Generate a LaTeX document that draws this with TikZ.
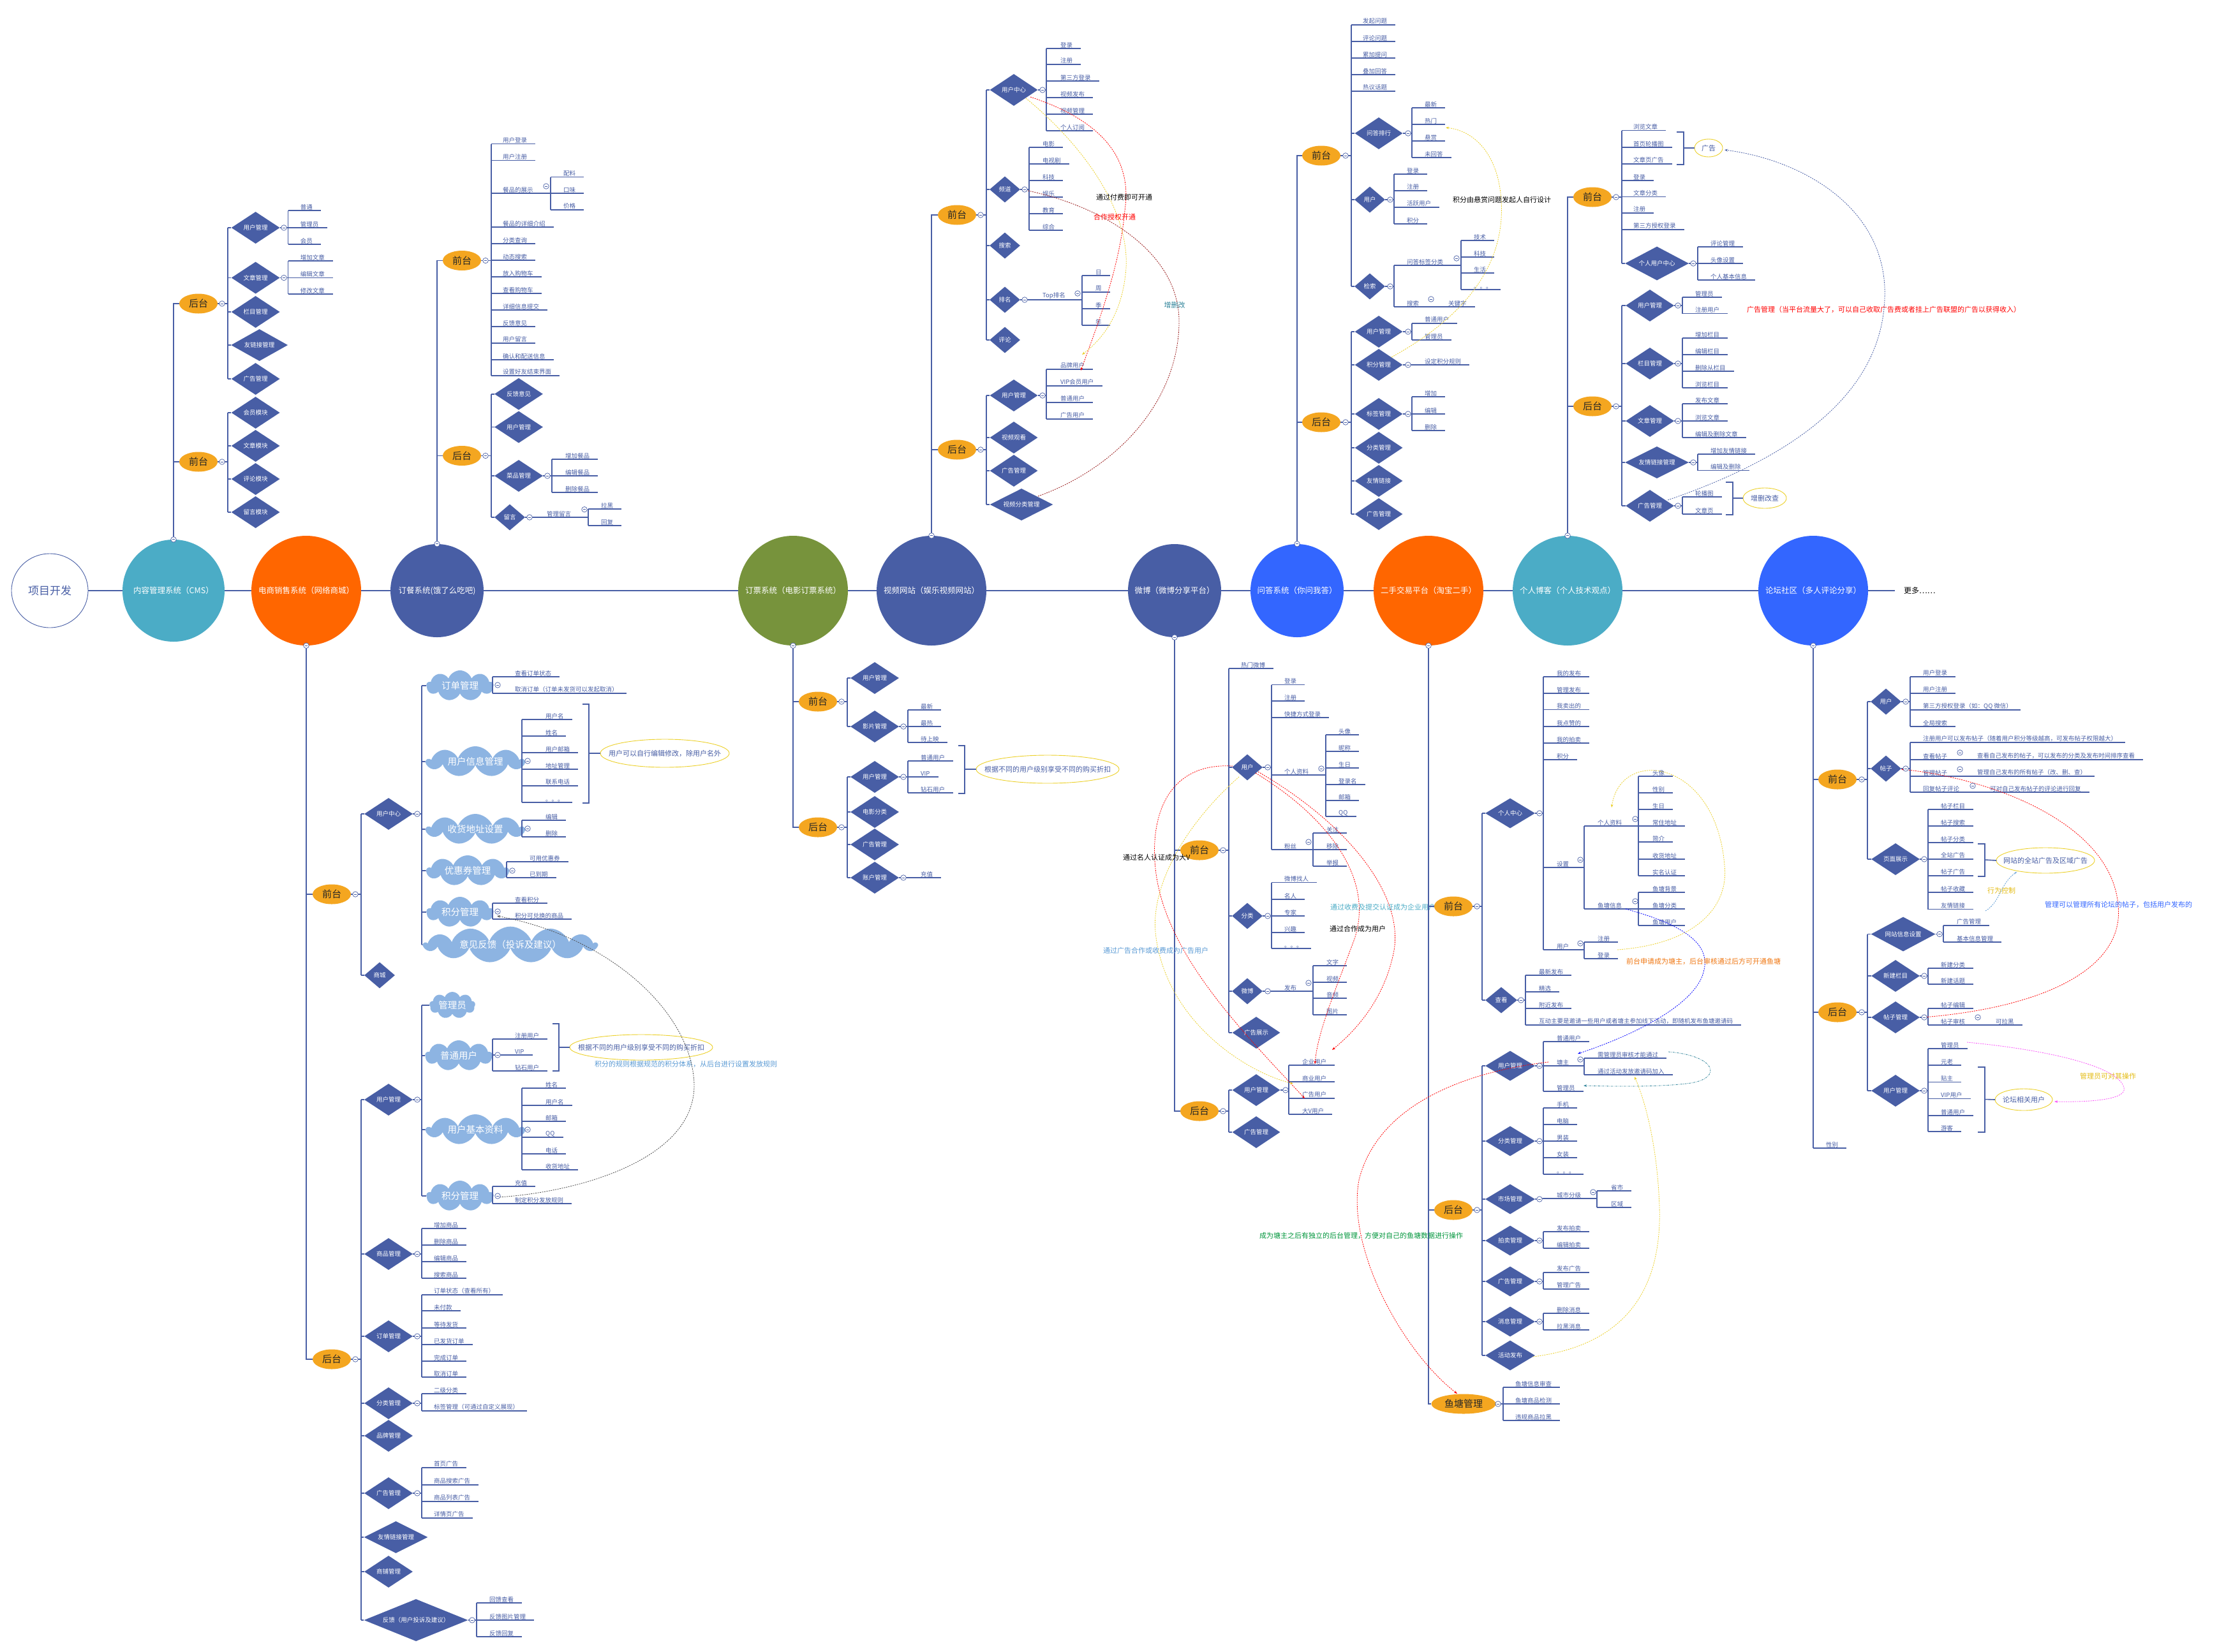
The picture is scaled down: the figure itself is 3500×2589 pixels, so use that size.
\documentclass[tikz,border=0pt]{standalone}
\usepackage{fontspec}
\setmainfont{Noto Sans CJK SC}
\usetikzlibrary{shapes.geometric,shapes.symbols,arrows.meta}
\definecolor{lc}{RGB}{72,94,165}
\definecolor{oc}{RGB}{244,166,32}
\definecolor{orgc}{RGB}{255,102,0}
\definecolor{tealc}{RGB}{75,172,198}
\definecolor{grnc}{RGB}{119,147,60}
\definecolor{bluc}{RGB}{51,102,255}
\definecolor{clc}{RGB}{141,180,226}
\definecolor{yc}{RGB}{236,208,40}
\definecolor{notec}{RGB}{91,155,213}
\definecolor{darkred}{RGB}{150,20,20}
\definecolor{tealt}{RGB}{49,133,155}
\definecolor{ytext}{RGB}{228,188,20}
\definecolor{magc}{RGB}{250,80,250}
\definecolor{grtext}{RGB}{0,150,60}
\definecolor{ortext}{RGB}{240,120,20}
\newcommand\fsz[1]{\fontsize{#1}{#1}\selectfont}
\newcounter{mkn}
\newcommand\MK[1]{\stepcounter{mkn}\node[mkr] (mk\arabic{mkn}) at (#1) {};}
\newcommand\LEAF[6][18]{%
  \draw[tline] (#3,#4) -- (#3,#5);
  \foreach \yy/\lbl [count=\i] in {#6}{%
    \node[leaftext] (#2-\i) at ({#3+#1},\yy) {\lbl};
    \draw[tline] (#3,\yy) -- ([xshift=12pt]#2-\i.south east);
  }}
\newcommand\DIA[6][]{\node[diam,#1] (#2) at (#3,#4) {#5};\draw[tline] (#6,#4) -- (#2.west);}
\newcommand\CLD[6][]{\node[cloudn,#1] (#2) at (#3,#4) {#5};\draw[tline] (#6,#4) -- (#2.west);}
\newcommand\TXT[3]{\node[leaftext] (#1) at (#2) {#3};}
\newcommand\NOTEE[5]{\node[annot,text=lc] (#1) at (#2) {#5};\draw[yc,line width=0.9pt] (#1.center) ellipse [x radius=#3pt, y radius=#4pt];\coordinate (#1w) at ([xshift=-#3pt]#1.center);}
\tikzset{
 tline/.style={draw=lc, line width=1.6pt},
 brkl/.style={draw=lc, line width=1.6pt},
 stemline/.style={draw=lc, line width=1.1pt},
 leaftext/.style={text=lc, font=\fsz{9.5}, inner sep=1pt, anchor=south west},
 diam/.style={diamond, fill=lc, text=white, font=\fsz{9.5}, inner sep=0pt, minimum width=76pt, minimum height=50pt, aspect=1.6},
 sdiam/.style={minimum width=48pt, minimum height=41pt, aspect=1.2},
 fbe/.style={ellipse, fill=oc, minimum width=60pt, minimum height=31pt, inner sep=0pt, font=\fsz{15}, text=black!85},
 mcirc/.style={circle, text=white, font=\fsz{12.5}, inner sep=0pt},
 cloudn/.style={cloud, cloud puffs=9, cloud puff arc=140, cloud ignores aspect, fill=clc, text=white, font=\fsz{14.5}, inner sep=0pt, minimum height=48pt},
 annot/.style={font=\fsz{11}, inner sep=1pt},
 dashl/.style={line width=0.8pt, dash pattern=on 2pt off 1.5pt},
 mkr/.style={circle, draw=lc, fill=white, line width=0.7pt, minimum size=8.5pt, inner sep=0pt, path picture={\draw[lc, line width=0.7pt] ([xshift=1.8pt]path picture bounding box.west) -- ([xshift=-1.8pt]path picture bounding box.east);}},
}
\begin{document}
\begin{tikzpicture}[x=1pt,y=-1pt]
\fill[white] (0,0) rectangle (3500,2589);
\useasboundingbox (0,0) rectangle (3500,2589);
% ================= main row
\node[ellipse, draw=lc, line width=0.9pt, fill=white, minimum width=120pt, minimum height=116pt, text=lc, font=\fsz{17}] (root) at (78,926) {项目开发};
\node[mcirc, fill=tealc, minimum size=160pt] (cms) at (272,926) {内容管理系统（CMS）};
\node[mcirc, fill=orgc, minimum size=172pt] (ds) at (480,926) {电商销售系统（网络商城）};
\node[mcirc, fill=lc, minimum size=146pt] (dcan) at (685,926) {订餐系统(饿了么吃吧)};
\node[mcirc, fill=grnc, minimum size=172pt] (dp) at (1243,926) {订票系统（电影订票系统）};
\node[mcirc, fill=lc, minimum size=172pt] (sp) at (1460,926) {视频网站（娱乐视频网站）};
\node[mcirc, fill=lc, minimum size=146pt] (wb) at (1841,926) {微博（微博分享平台）};
\node[mcirc, fill=bluc, minimum size=146pt] (wd) at (2033,926) {问答系统（你问我答）};
\node[mcirc, fill=orgc, minimum size=172pt] (es) at (2239,926) {二手交易平台（淘宝二手）};
\node[mcirc, fill=tealc, minimum size=172pt] (bk) at (2457,926) {个人博客（个人技术观点）};
\node[mcirc, fill=bluc, minimum size=172pt] (lt) at (2842,926) {论坛社区（多人评论分享）};
\node[font=\fsz{12}, anchor=west, inner sep=0pt] (more) at (2984,926) {更多……};
\foreach \a/\b in {root/cms,cms/ds,ds/dcan,dcan/dp,dp/sp,sp/wb,wb/wd,wd/es,es/bk,bk/lt} \draw[stemline] (\a.east) -- (\b.west);
\draw[stemline] (lt.east) -- ([xshift=-14pt]more.west);
% ================= CMS
\node[fbe] (cmsB) at (311,476) {后台};
\node[fbe] (cmsF) at (311,724) {前台};
\draw[stemline] (cms.north) -- (272,476) -- (cmsB.west);
\draw[stemline] (272,724) -- (cmsF.west);
\draw[tline] (cmsB.east) -- (357,476);
\draw[tline] (357,357) -- (357,594);
\DIA{cms1}{400.6}{357}{用户管理}{357}
\DIA{cms2}{400.6}{435.5}{文章管理}{357}
\DIA{cms3}{400.6}{489}{栏目管理}{357}
\DIA[minimum width=89pt,aspect=1.9]{cms4}{406.6}{541}{友链接管理}{357}
\DIA{cms5}{400.6}{594}{广告管理}{357}
\draw[tline] (cms1.east) -- (451.6,357);
\LEAF{cmsL1}{451.6}{330}{383}{330/普通,357/管理员,383/会员}
\draw[tline] (cms2.east) -- (451.6,435.5);
\LEAF{cmsL2}{451.6}{409}{461}{409/增加文章,435.5/编辑文章,461/修改文章}
\draw[tline] (cmsF.east) -- (357,724);
\draw[tline] (357,647) -- (357,803);
\DIA{cms6}{400.6}{647}{会员模块}{357}
\DIA{cms7}{400.6}{699}{文章模块}{357}
\DIA{cms8}{400.6}{751}{评论模块}{357}
\DIA{cms9}{400.6}{803}{留言模块}{357}
\MK{cms.north}\MK{348,476}\MK{348,724}\MK{445,357}\MK{445,435.5}
% ================= 电商
\node[fbe] (dsF) at (520,1402) {前台};
\node[fbe] (dsB) at (520,2131) {后台};
\draw[stemline] (ds.south) -- (480,2131) -- (dsB.west);
\draw[stemline] (480,1402) -- (dsF.west);
\draw[tline] (dsF.east) -- (566,1402);
\draw[tline] (566,1276) -- (566,1529);
\DIA{ds1}{609}{1276}{用户中心}{566}
\DIA[sdiam]{ds2}{595}{1529}{商城}{566}
\draw[tline] (ds1.east) -- (661,1276);
\draw[tline] (661,1075) -- (661,1481);
\CLD[minimum width=105pt]{dsc1}{721}{1075}{订单管理}{661}
\CLD[minimum width=152pt]{dsc2}{745}{1194}{用户信息管理}{661}
\CLD[minimum width=152pt]{dsc3}{745}{1300}{收货地址设置}{661}
\CLD[minimum width=128pt]{dsc4}{733}{1365}{优惠券管理}{661}
\CLD[minimum width=105pt]{dsc5}{721}{1430}{积分管理}{661}
\CLD[minimum width=271pt, cloud puffs=13]{dsc6}{800}{1481}{意见反馈（投诉及建议）}{661}
\LEAF[34]{dsL1}{772}{1061}{1087}{1061/查看订单状态,1087/取消订单（订单未发货可以发起取消）}
\LEAF[36]{dsL2}{818}{1128}{1258}{1128/用户名,1154/姓名,1180/用户邮箱,1206/地址管理,1232/联系电话,1258/。。。}
\draw[brkl] (913,1104) -- (923,1104) -- (923,1259) -- (913,1259);
\NOTEE{dsn1}{1042,1181}{101}{22}{用户可以自行编辑修改，除用户名外}
\draw[tline] (923,1181) -- (dsn1w);
\LEAF[36]{dsL3}{818}{1286}{1312}{1286/编辑,1312/删除}
\LEAF[35]{dsL4}{794}{1351}{1376}{1351/可用优惠券,1376/已到期}
\LEAF[34]{dsL5}{772}{1416}{1441}{1416/查看积分,1441/积分可兑换的商品}
\draw[tline] (dsB.east) -- (566,2131);
\draw[tline] (566,1724) -- (566,2540);
\DIA{ds3}{609}{1724}{用户管理}{566}
\draw[tline] (ds3.east) -- (661,1724);
\draw[tline] (661,1576) -- (661,1875);
\CLD[minimum width=72pt, minimum height=42pt]{dsc7}{709}{1576}{管理员}{661}
\CLD[minimum width=105pt]{dsc8}{719}{1655}{普通用户}{661}
\CLD[minimum width=152pt]{dsc9}{745}{1771}{用户基本资料}{661}
\CLD[minimum width=105pt]{dsc10}{721}{1875}{积分管理}{661}
\LEAF[34]{dsL6}{772}{1629}{1679}{1629/注册用户,1654/VIP,1679/钻石用户}
\draw[brkl] (866,1605) -- (876,1605) -- (876,1679) -- (866,1679);
\NOTEE{dsn2}{1005,1642}{112}{20}{根据不同的用户级别享受不同的购买折扣}
\draw[tline] (876,1642) -- (dsn2w);
\node[annot, text=notec, anchor=west] (dst1) at (931,1668) {积分的规则根据规范的积分体系，从后台进行设置发放规则};
\LEAF[36]{dsL7}{818}{1706}{1834}{1706/姓名,1733/用户名,1758/邮箱,1783/QQ,1809/电话,1834/收货地址}
\LEAF[34]{dsL8}{772}{1860}{1887}{1860/充值,1887/制定积分发放规则}
\DIA{ds4}{609}{1966}{商品管理}{566}
\draw[tline] (ds4.east) -- (661,1966);
\LEAF{dsL9}{661}{1926}{2004}{1926/增加商品,1952/删除商品,1978/编辑商品,2004/搜索商品}
\DIA{ds5}{609}{2095}{订单管理}{566}
\draw[tline] (ds5.east) -- (661,2095);
\LEAF{dsL10}{661}{2030}{2159}{2030/订单状态（查看所有）,2055/未付款,2082/等待发货,2108/已发货订单,2134/完成订单,2159/取消订单}
\DIA{ds6}{609}{2200}{分类管理}{566}
\draw[tline] (ds6.east) -- (661,2200);
\LEAF{dsL11}{661}{2185}{2212}{2185/二级分类,2212/标签管理（可通过自定义展现）}
\DIA{ds7}{609}{2251}{品牌管理}{566}
\DIA{ds8}{609}{2341}{广告管理}{566}
\draw[tline] (ds8.east) -- (661,2341);
\LEAF{dsL12}{661}{2301}{2380}{2301/首页广告,2328/商品搜索广告,2354/商品列表广告,2380/详情页广告}
\DIA[minimum width=100pt,aspect=2]{ds9}{620.5}{2410}{友情链接管理}{566}
\DIA{ds10}{609}{2464}{商铺管理}{566}
\DIA[minimum width=163pt,minimum height=66pt,aspect=2.5]{ds11}{652}{2540}{反馈（用户投诉及建议）}{566}
\draw[tline] (ds11.east) -- (747,2540);
\LEAF[19]{dsL13}{747}{2513}{2566}{2513/回馈查看,2540/反馈图片管理,2566/反馈回复}
\coordinate (dsa1) at (780,1877);
\coordinate (dsa2) at (779,1436);
\draw[dashl, black!70, -{Stealth[length=5pt]}] (dsa1) .. controls (900,1870) and (1090,1820) .. (1088,1700) .. controls (1085,1590) and (960,1470) .. (dsa2);
\MK{ds.south}\MK{557,1402}\MK{557,2131}\MK{654,1276}\MK{780,1074}\MK{827,1193}\MK{827,1299}\MK{803,1365}\MK{780,1429}
\MK{654,1724}\MK{780,1654}\MK{827,1771}\MK{780,1875}\MK{654,1966}\MK{654,2095}\MK{654,2200}\MK{654,2341}\MK{740,2540}
% ================= 订餐
\node[fbe] (dcF) at (724,408.5) {前台};
\node[fbe] (dcB) at (724,714.5) {后台};
\draw[stemline] (dcan.north) -- (685,408.5) -- (dcF.west);
\draw[stemline] (685,714.5) -- (dcB.west);
\draw[tline] (dcF.east) -- (770,408.5);
\LEAF[17]{dcL1}{770}{225.5}{589}{225.5/用户登录,251.5/用户注册,303/餐品的展示,356/餐品的详细介绍,382/分类查询,408/动态搜索,434/放入购物车,460/查看购物车,486/详细信息提交,512/反馈意见,538/用户留言,564/确认和配送信息,589/设置好友结束界面}
\draw[tline] (770,303) -- (863,303);
\LEAF[19]{dcL2}{863}{277.6}{329}{277.6/配料,303/口味,329/价格}
\draw[tline] (dcB.east) -- (770,714.5);
\draw[tline] (770,617.7) -- (770,811);
\DIA{dc1}{813}{617.7}{反馈意见}{770}
\DIA{dc2}{813}{669.5}{用户管理}{770}
\DIA{dc3}{813}{746}{菜品管理}{770}
\DIA[sdiam]{dc4}{799}{811}{留言}{770}
\draw[tline] (dc3.east) -- (865,746);
\LEAF[20]{dcL3}{865}{720}{772}{720/增加餐品,746/编辑餐品,772/删除餐品}
\draw[tline] (dc4.east) -- (922,811);
\TXT{dct1}{856,811}{管理留言}
\LEAF[19]{dcL4}{922}{798}{824}{798/拉黑,824/回复}
\MK{dcan.north}\MK{761,408.5}\MK{761,714.5}\MK{856,292}\MK{858,746}\MK{830,811}\MK{916,798.7}
% ================= 订票
\node[fbe] (dpF) at (1282,1100) {前台};
\node[fbe] (dpB) at (1282,1297) {后台};
\draw[stemline] (dp.south) -- (1243,1297) -- (dpB.west);
\draw[stemline] (1243,1100) -- (dpF.west);
\draw[tline] (dpF.east) -- (1328,1100);
\draw[tline] (1328,1063) -- (1328,1139);
\DIA{dp1}{1371}{1063}{用户管理}{1328}
\DIA{dp2}{1371}{1139}{影片管理}{1328}
\draw[tline] (dp2.east) -- (1423,1139);
\LEAF[19]{dpL1}{1423}{1113}{1164}{1113/最新,1139/最热,1164/待上映}
\draw[tline] (dpB.east) -- (1328,1297);
\draw[tline] (1328,1218) -- (1328,1376);
\DIA{dp3}{1371}{1218}{用户管理}{1328}
\DIA{dp4}{1371}{1273}{电影分类}{1328}
\DIA{dp5}{1371}{1324}{广告管理}{1328}
\DIA{dp6}{1371}{1376}{账户管理}{1328}
\draw[tline] (dp3.east) -- (1423,1218);
\LEAF[19]{dpL2}{1423}{1193}{1243}{1193/普通用户,1218/VIP,1243/钻石用户}
\draw[brkl] (1502,1169) -- (1512,1169) -- (1512,1244) -- (1502,1244);
\NOTEE{dpn1}{1642,1206}{112}{22}{根据不同的用户级别享受不同的购买折扣}
\draw[tline] (1512,1206) -- (dpn1w);
\draw[tline] (dp6.east) -- (1423,1376);
\LEAF[19]{dpL3}{1423}{1376}{1376}{1376/充值}
\MK{dp.south}\MK{1319,1100}\MK{1319,1297}\MK{1416,1139}\MK{1416,1218}\MK{1416,1376}
% ================= 视频
\node[fbe] (spF) at (1500,337) {前台};
\node[fbe] (spB) at (1500,705) {后台};
\draw[stemline] (sp.north) -- (1460,337) -- (spF.west);
\draw[stemline] (1460,705) -- (spB.west);
\draw[tline] (spF.east) -- (1546,337);
\draw[tline] (1546,141) -- (1546,533);
\DIA[minimum width=75pt]{sp1}{1589}{141}{用户中心}{1546}
\DIA[sdiam]{sp2}{1575}{297}{频道}{1546}
\DIA[sdiam]{sp3}{1575}{385}{搜索}{1546}
\DIA[sdiam]{sp4}{1575}{470}{排名}{1546}
\DIA[sdiam]{sp5}{1575}{533}{评论}{1546}
\draw[tline] (sp1.east) -- (1640,141);
\LEAF[21]{spL1}{1640}{76}{205}{76/登录,101/注册,127/第三方登录,153/视频发布,179/视频管理,205/个人订阅}
\draw[tline] (sp2.east) -- (1613,297);
\LEAF[20]{spL2}{1613}{231}{361}{231/电影,257/电视剧,283/科技,309/娱乐,335/教育,361/综合}
\draw[tline] (sp4.east) -- (1696,470);
\TXT{spt1}{1633,470}{Top排名}
\LEAF[20]{spL3}{1696}{432}{510}{432/日,458/周,484/季,510/年}
\draw[tline] (spB.east) -- (1546,705);
\draw[tline] (1546,620) -- (1546,791);
\DIA[minimum width=75pt]{sp6}{1589}{620}{用户管理}{1546}
\DIA[minimum width=75pt]{sp7}{1589}{686}{视频观看}{1546}
\DIA[minimum width=75pt]{sp8}{1589}{738}{广告管理}{1546}
\DIA[minimum width=99pt,aspect=2]{sp9}{1601}{791}{视频分类管理}{1546}
\draw[tline] (sp6.east) -- (1640,620);
\LEAF[21]{spL4}{1640}{579}{657}{579/品牌用户,605/VIP会员用户,631/普通用户,657/广告用户}
\coordinate (spa1) at (1615,152); \coordinate (spa2) at (1694,581);
\draw[dashl, red, -{Stealth[length=5pt]}] (spa1) .. controls (1730,190) and (1775,250) .. (1763,330) .. controls (1755,420) and (1720,510) .. (spa2);
\coordinate (spa3) at (1608,154); \coordinate (spa4) at (1696,556);
\draw[dashl, yc, -{Stealth[length=5pt]}] (spa3) .. controls (1700,230) and (1770,330) .. (1765,420) .. controls (1760,490) and (1730,530) .. (spa4);
\coordinate (spa5) at (1627,778); \coordinate (spa6) at (1601,297);
\draw[dashl, darkred, -{Stealth[length=5pt]}] (spa5) .. controls (1760,730) and (1850,620) .. (1848,500) .. controls (1845,390) and (1720,320) .. (spa6);
\node[annot] (spt2) at (1762,309) {通过付费即可开通};
\node[annot, text=red] (spt3) at (1747,340) {合作授权开通};
\node[annot, text=tealt] (spt4) at (1841,478) {增删改};
\MK{sp.north}\MK{1537,337}\MK{1537,705}\MK{1634,141}\MK{1606,297}\MK{1606,470}\MK{1689,460}\MK{1634,620}
% ================= 微博
\node[fbe] (wbF) at (1880,1333) {前台};
\node[fbe] (wbB) at (1880,1742) {后台};
\draw[stemline] (wb.south) -- (1841,1742) -- (wbB.west);
\draw[stemline] (1841,1333) -- (wbF.west);
\draw[tline] (wbF.east) -- (1926,1333);
\LEAF{wbL0}{1926}{1048}{1619}{1048/热门微博}
\DIA[sdiam]{wb1}{1955}{1203}{用户}{1926}
\DIA[sdiam]{wb2}{1955}{1436}{分类}{1926}
\DIA[sdiam]{wb3}{1955}{1554}{微博}{1926}
\DIA[minimum width=75pt]{wb4}{1969}{1619}{广告展示}{1926}
\draw[tline] (wb1.east) -- (1993,1203);
\LEAF[19]{wbL1}{1993}{1073.5}{1332}{1073.5/登录,1099/注册,1125/快捷方式登录,1215/个人资料,1332/粉丝}
\draw[tline] (1993,1215) -- (2078,1215);
\draw[tline] (1993,1332) -- (2058,1332);
\LEAF[19]{wbL2}{2078}{1152}{1280}{1152/头像,1178/昵称,1204/生日,1230/登录名,1255/邮箱,1280/QQ}
\LEAF[20]{wbL3}{2058}{1306}{1358}{1306/关注,1332/移除,1358/举报}
\draw[tline] (wb2.east) -- (1993,1436);
\LEAF[19]{wbL4}{1993}{1383.5}{1487}{1383.5/微博找人,1410/名人,1436/专家,1462/兴趣,1487/。。。}
\draw[tline] (wb3.east) -- (2058,1554);
\TXT{wbt1}{2012,1554}{发布}
\LEAF[20]{wbL5}{2058}{1514}{1591}{1514/文字,1540/视频,1565/音频,1591/图片}
\draw[tline] (wbB.east) -- (1926,1742);
\draw[tline] (1926,1709) -- (1926,1775);
\DIA[minimum width=75pt]{wb5}{1969}{1709}{用户管理}{1926}
\DIA[minimum width=75pt]{wb6}{1969}{1775}{广告管理}{1926}
\draw[tline] (wb5.east) -- (2020,1709);
\LEAF[20]{wbL6}{2020}{1670}{1747}{1670/企业用户,1696/商业用户,1722/广告用户,1747/大V用户}
\coordinate (wba1) at (1932,1201); \coordinate (wba2) at (2045,1722);
\draw[dashl, red, -{Stealth[length=5pt]}] (wba1) .. controls (1830,1195) and (1800,1280) .. (1812,1370) .. controls (1830,1500) and (1950,1620) .. (wba2);
\coordinate (wba3) at (1968,1212); \coordinate (wba4) at (2061,1668);
\draw[dashl, red, -{Stealth[length=5pt]}] (wba3) .. controls (2080,1280) and (2160,1380) .. (2120,1480) .. controls (2090,1560) and (2065,1620) .. (wba4);
\coordinate (wba5) at (1972,1210); \coordinate (wba6) at (2088,1646);
\draw[dashl, red, -{Stealth[length=5pt]}] (wba5) .. controls (2110,1290) and (2200,1400) .. (2185,1490) .. controls (2170,1570) and (2120,1620) .. (wba6);
\coordinate (wba7) at (1942,1218); \coordinate (wba8) at (2027,1699);
\draw[dashl, yc, -{Stealth[length=5pt]}] (wba7) .. controls (1860,1290) and (1800,1390) .. (1812,1470) .. controls (1830,1600) and (1950,1680) .. (wba8);
\node[annot, anchor=west] (wbt2) at (1759,1344) {通过名人认证成为大V};
\node[annot, anchor=west, text=tealc] (wbt3) at (2084,1422) {通过收费及提交认证成为企业用户};
\node[annot, anchor=west] (wbt4) at (2083,1456) {通过合作成为用户};
\node[annot, anchor=west, text=notec] (wbt5) at (1728,1490) {通过广告合作或收费成为广告用户};
\MK{wb.south}\MK{1917,1333}\MK{1917,1742}\MK{1987,1203}\MK{2071,1205}\MK{2051,1320}\MK{1987,1436}\MK{1987,1554}\MK{2051,1541}\MK{2015,1709}
% ================= 问答
\node[fbe] (wdF) at (2071,244) {前台};
\node[fbe] (wdB) at (2071,662) {后台};
\draw[stemline] (wd.north) -- (2033,244) -- (wdF.west);
\draw[stemline] (2033,662) -- (wdB.west);
\draw[tline] (wdF.east) -- (2118,244);
\LEAF[17]{wdL0}{2118}{39}{449}{39/发起问题,65/评论问题,91/累加提问,117/叠加回答,143/热议话题}
\DIA[minimum width=75pt]{wd1}{2161}{209}{问答排行}{2118}
\DIA[sdiam]{wd2}{2147}{313}{用户}{2118}
\DIA[sdiam]{wd3}{2147}{449}{检索}{2118}
\draw[tline] (wd1.east) -- (2213,209);
\LEAF[19]{wdL1}{2213}{169}{247}{169/最新,195/热门,221/悬赏,247/未回答}
\draw[tline] (wd2.east) -- (2185,313);
\LEAF[19]{wdL2}{2185}{273}{351}{273/登录,299/注册,325/活跃用户,351/积分}
\draw[tline] (wd3.east) -- (2185,449);
\draw[tline] (2185,416) -- (2185,481);
\TXT{wdt1}{2204,416}{问答标签分类}
\draw[tline] (2185,416) -- (2290,416);
\LEAF[19]{wdL3}{2290}{377}{454}{377/技术,403/科技,428/生活,454/。。。}
\TXT{wdt2}{2204,481}{搜索}
\TXT{wdt3}{2269,481}{关键字}
\draw[tline] (2185,481) -- ([xshift=12pt]wdt3.south east);
\draw[tline] (wdB.east) -- (2118,662);
\draw[tline] (2118,520) -- (2118,806);
\DIA[minimum width=75pt]{wd4}{2161}{520}{用户管理}{2118}
\DIA[minimum width=75pt]{wd5}{2161}{572}{积分管理}{2118}
\DIA[minimum width=75pt]{wd6}{2161}{649}{标签管理}{2118}
\DIA[minimum width=75pt]{wd7}{2161}{702}{分类管理}{2118}
\DIA[minimum width=75pt]{wd8}{2161}{754}{友情链接}{2118}
\DIA[minimum width=75pt]{wd9}{2161}{806}{广告管理}{2118}
\draw[tline] (wd4.east) -- (2213,520);
\LEAF[19]{wdL4}{2213}{507}{533}{507/普通用户,533/管理员}
\draw[tline] (wd5.east) -- (2213,572);
\LEAF[19]{wdL5}{2213}{572}{572}{572/设定积分规则}
\draw[tline] (wd6.east) -- (2213,649);
\LEAF[19]{wdL6}{2213}{622}{675}{622/增加,649/编辑,675/删除}
\coordinate (wda1) at (2181,560); \coordinate (wda2) at (2266,200);
\draw[dashl, yc, -{Stealth[length=5pt]}] (wda1) .. controls (2290,500) and (2360,420) .. (2353,314) .. controls (2348,240) and (2310,205) .. (wda2);
\node[annot] (wdt4) at (2354,313) {积分由悬赏问题发起人自行设计};
\MK{wd.north}\MK{2109,244}\MK{2109,662}\MK{2207,209}\MK{2179,313}\MK{2179,449}\MK{2283,405}\MK{2243,469}\MK{2207,520}\MK{2207,572}\MK{2207,649}
% ================= 二手
\node[fbe] (esF) at (2278,1421) {前台};
\node[fbe] (esB) at (2278,1897) {后台};
\node[fbe, minimum width=101pt] (esY) at (2294,2201) {鱼塘管理};
\draw[stemline] (es.south) -- (2239,2201) -- (esY.west);
\draw[stemline] (2239,1421) -- (esF.west);
\draw[stemline] (2239,1897) -- (esB.west);
\draw[tline] (esF.east) -- (2323,1421);
\draw[tline] (2323,1275) -- (2323,1568);
\DIA[minimum width=78pt,minimum height=47pt]{es1}{2367}{1275}{个人中心}{2323}
\DIA[sdiam,minimum width=50pt]{es2}{2353}{1568}{查看}{2323}
\draw[tline] (es1.east) -- (2419,1275);
\LEAF[20]{esL1}{2419}{1061}{1489}{1061/我的发布,1087/管理发布,1112.5/我卖出的,1139/我点赞的,1165/我的拍卖,1191/积分}
\TXT{est1}{2439,1360}{设置}
\draw[tline] (2419,1360) -- (2483,1360);
\draw[tline] (2483,1295) -- (2483,1425);
\TXT{est2}{2503,1295}{个人资料}
\draw[tline] (2483,1295) -- (2568,1295);
\LEAF[21]{esL2}{2568}{1217}{1373}{1217/头像,1243/性别,1269/生日,1295/常住地址,1320/简介,1347/收货地址,1373/实名认证}
\TXT{est3}{2503,1425}{鱼塘信息}
\draw[tline] (2483,1425) -- (2568,1425);
\LEAF[21]{esL3}{2568}{1399}{1451}{1399/鱼塘背景,1425/鱼塘分类,1451/鱼塘用户}
\TXT{est4}{2439,1489}{用户}
\draw[tline] (2419,1489) -- (2483,1489);
\LEAF[20]{esL4}{2483}{1477}{1503}{1477/注册,1503/登录}
\draw[tline] (es2.east) -- (2391,1568);
\LEAF[20]{esL5}{2391}{1529}{1607}{1529/最新发布,1555/精选,1581/附近发布,1607/互动主要是邀请一些用户或者塘主参加线下活动，即随机发布鱼塘邀请码}
\draw[tline] (esB.east) -- (2323,1897);
\draw[tline] (2323,1671) -- (2323,2125);
\DIA[minimum width=78pt,minimum height=47pt]{es3}{2367}{1671}{用户管理}{2323}
\DIA[minimum width=78pt,minimum height=47pt]{es4}{2367}{1789}{分类管理}{2323}
\DIA[minimum width=78pt,minimum height=47pt]{es5}{2367}{1880}{市场管理}{2323}
\DIA[minimum width=78pt,minimum height=47pt]{es6}{2367}{1945}{拍卖管理}{2323}
\DIA[minimum width=78pt,minimum height=47pt]{es7}{2367}{2009}{广告管理}{2323}
\DIA[minimum width=78pt,minimum height=47pt]{es8}{2367}{2072}{消息管理}{2323}
\DIA[minimum width=78pt,minimum height=47pt]{es9}{2367}{2125}{活动发布}{2323}
\draw[tline] (es3.east) -- (2419,1671);
\LEAF[20]{esL6}{2419}{1633}{1711}{1633/普通用户,1711/管理员}
\TXT{est5}{2439,1671}{塘主}
\draw[tline] (2419,1671) -- (2483,1671);
\LEAF[20]{esL7}{2483}{1659}{1685}{1659/需管理员审核才能通过,1685/通过活动发放邀请码加入}
\draw[tline] (es4.east) -- (2419,1789);
\LEAF[20]{esL8}{2419}{1737}{1841}{1737/手机,1763/电脑,1789/男装,1815/女装,1841/。。。}
\draw[tline] (es5.east) -- (2419,1879);
\TXT{est6}{2439,1879}{城市分级}
\draw[tline] (2419,1879) -- (2503,1879);
\LEAF[21]{esL9}{2503}{1867}{1893}{1867/省市,1893/区域}
\draw[tline] (es6.east) -- (2419,1945);
\LEAF[20]{esL10}{2419}{1931}{1957}{1931/发布拍卖,1957/编辑拍卖}
\draw[tline] (es7.east) -- (2419,2009);
\LEAF[20]{esL11}{2419}{1995}{2021}{1995/发布广告,2021/管理广告}
\draw[tline] (es8.east) -- (2419,2072);
\LEAF[20]{esL12}{2419}{2059}{2085}{2059/删除消息,2085/拉黑消息}
\draw[tline] (esY.east) -- (2356,2201);
\LEAF{esL13}{2356}{2175}{2227}{2175/鱼塘信息审查,2201/鱼塘商品检测,2227/违规商品拉黑}
\coordinate (esa1) at (2535,1489); \coordinate (esa2) at (2526,1266);
\draw[dashl, yc, -{Stealth[length=5pt]}] (esa1) .. controls (2660,1480) and (2710,1420) .. (2703,1357) .. controls (2690,1190) and (2540,1170) .. (esa2);
\coordinate (esa3) at (2548,1425); \coordinate (esa4) at (2473,1652);
\draw[dashl, blue, -{Stealth[length=5pt]}] (esa3) .. controls (2640,1450) and (2680,1480) .. (2671,1520) .. controls (2660,1580) and (2540,1630) .. (esa4);
\coordinate (esa5) at (2615,1649); \coordinate (esa6) at (2482,1702);
\draw[tealt, line width=0.8pt, dash pattern=on 3pt off 1.5pt on 0.8pt off 1.5pt, -{Stealth[length=5pt]}] (esa5) .. controls (2690,1655) and (2700,1690) .. (2650,1698) .. controls (2600,1705) and (2520,1703) .. (esa6);
\coordinate (esa7) at (2403,2127); \coordinate (esa8) at (2562,1688);
\draw[dashl, yc, -{Stealth[length=5pt]}] (esa7) .. controls (2540,2110) and (2605,2030) .. (2601,1893) .. controls (2598,1800) and (2580,1730) .. (esa8);
\coordinate (esa9) at (2427,1665); \coordinate (esa10) at (2284,2185);
\draw[dashl, red, -{Stealth[length=5pt]}] (esa9) .. controls (2300,1680) and (2160,1730) .. (2130,1850) .. controls (2110,1960) and (2200,2120) .. (esa10);
\node[annot, anchor=west, text=ortext] (est7) at (2548,1507) {前台申请成为塘主，后台审核通过后方可开通鱼塘};
\node[annot, anchor=west, text=grtext] (est8) at (1973,1937) {成为塘主之后有独立的后台管理，方便对自己的鱼塘数据进行操作};
\MK{es.south}\MK{2315,1421}\MK{2315,1897}\MK{2348,2201}\MK{2413,1275}\MK{2477,1348}\MK{2563,1284}\MK{2563,1413}\MK{2477,1479}\MK{2384,1568}\MK{2413,1671}\MK{2477,1661}\MK{2413,1789}\MK{2413,1880}\MK{2497,1869}\MK{2413,1945}\MK{2413,2009}\MK{2413,2072}
% ================= 个人博客
\node[fbe] (bkF) at (2496,309) {前台};
\node[fbe] (bkB) at (2496,637) {后台};
\draw[stemline] (bk.north) -- (2457,309) -- (bkF.west);
\draw[stemline] (2457,637) -- (bkB.west);
\draw[tline] (bkF.east) -- (2542,309);
\LEAF[17]{bkL1}{2542}{204.5}{413}{204.5/浏览文章,231/首页轮播图,257/文章页广告,283/登录,308.5/文章分类,334/注册,360/第三方授权登录}
\DIA[minimum width=100pt,minimum height=53pt,aspect=1.9]{bk1}{2597}{413}{个人用户中心}{2542}
\draw[brkl] (2628,207) -- (2639,207) -- (2639,258) -- (2628,258);
\NOTEE{bkn1}{2678,232}{22}{14}{广告}
\draw[tline] (2639,232) -- (bkn1w);
\draw[tline] (bk1.east) -- (2661,413);
\LEAF[19]{bkL2}{2661}{387}{439}{387/评论管理,413/头像设置,439/个人基本信息}
\draw[tline] (bkB.east) -- (2542,637);
\draw[tline] (2542,479) -- (2542,793);
\DIA{bk2}{2586}{479}{用户管理}{2542}
\DIA{bk3}{2586}{570}{栏目管理}{2542}
\DIA{bk4}{2586}{660}{文章管理}{2542}
\DIA[minimum width=100pt,aspect=2]{bk5}{2597}{725}{友情链接管理}{2542}
\DIA{bk6}{2586}{793}{广告管理}{2542}
\draw[tline] (bk2.east) -- (2637,479);
\LEAF[19]{bkL3}{2637}{466}{491.5}{466/管理员,491.5/注册用户}
\draw[tline] (bk3.east) -- (2637,570);
\LEAF[19]{bkL4}{2637}{530}{608}{530/增加栏目,556/编辑栏目,582/删除从栏目,608/浏览栏目}
\draw[tline] (bk4.east) -- (2637,660);
\LEAF[19]{bkL5}{2637}{633}{686}{633/发布文章,660/浏览文章,686/编辑及删除文章}
\draw[tline] (bk5.east) -- (2661,725);
\LEAF[19]{bkL6}{2661}{712}{737.5}{712/增加友情链接,737.5/编辑及删除}
\draw[tline] (bk6.east) -- (2637,793);
\LEAF[19]{bkL7}{2637}{779}{806}{779/轮播图,806/文章页}
\draw[brkl] (2705,756) -- (2716,756) -- (2716,807) -- (2705,807);
\NOTEE{bkn2}{2766,781}{34}{16}{增删改查}
\draw[tline] (2716,781) -- (bkn2w);
\node[annot, anchor=west, text=red] (bkt1) at (2737,485) {广告管理（当平台流量大了，可以自己收取广告费或者挂上广告联盟的广告以获得收入）};
\coordinate (bka1) at (2614,784); \coordinate (bka2) at (2703,235);
\draw[dashl, lc, -{Stealth[length=5pt]}] (bka1) .. controls (2800,720) and (2960,620) .. (2954,450) .. controls (2948,320) and (2820,250) .. (bka2);
\MK{bk.north}\MK{2533,309}\MK{2533,637}\MK{2654,413}\MK{2630,479}\MK{2630,570}\MK{2630,660}\MK{2654,725}\MK{2630,793}
% ================= 论坛
\node[fbe] (ltF) at (2880,1222) {前台};
\node[fbe] (ltB) at (2880,1587) {后台};
\draw[stemline] (lt.south) -- (2842,1800);
\draw[stemline] (2842,1222) -- (ltF.west);
\draw[stemline] (2842,1587) -- (ltB.west);
\LEAF[19]{ltL0}{2842}{1800}{1800}{1800/性别}
\draw[tline] (ltF.east) -- (2927,1222);
\draw[tline] (2927,1100) -- (2927,1347);
\DIA[sdiam]{lt1}{2956}{1100}{用户}{2927}
\DIA[sdiam]{lt2}{2956}{1205}{帖子}{2927}
\DIA{lt3}{2971}{1347}{页面展示}{2927}
\draw[tline] (lt1.east) -- (2994,1100);
\LEAF[19]{ltL1}{2994}{1061}{1139}{1061/用户登录,1087/用户注册,1113/第三方授权登录（如：QQ 微信）,1139/全局搜索}
\draw[tline] (lt2.east) -- (2994,1205);
\LEAF[19]{ltL2}{2994}{1164}{1242}{1164/注册用户可以发布帖子（随着用户积分等级越高，可发布帖子权限越大）}
\TXT{ltA1}{3013,1191}{查看帖子}
\TXT{ltA2}{3098,1191}{查看自己发布的帖子，可以发布的分类及发布时间排序查看}
\draw[tline] (2994,1191) -- ([xshift=12pt]ltA2.south east);
\TXT{ltB1}{3013,1217}{管理帖子}
\TXT{ltB2}{3098,1217}{管理自己发布的所有帖子（改、删、查）}
\draw[tline] (2994,1217) -- ([xshift=12pt]ltB2.south east);
\TXT{ltC1}{3013,1242}{回复帖子评论}
\TXT{ltC2}{3118,1242}{可对自己发布帖子的评论进行回复}
\draw[tline] (2994,1242) -- ([xshift=12pt]ltC2.south east);
\draw[tline] (lt3.east) -- (3022,1347);
\LEAF[19]{ltL3}{3022}{1269}{1425.5}{1269/帖子栏目,1295/帖子搜索,1321/帖子分类,1347/全站广告,1373/帖子广告,1399/帖子收藏,1425.5/友情链接}
\draw[brkl] (3100,1323) -- (3111,1323) -- (3111,1374) -- (3100,1374);
\NOTEE{ltn1}{3206,1349}{77}{20}{网站的全站广告及区域广告}
\draw[tline] (3111,1348) -- (ltn1w);
\node[annot, text=ytext] (ltt1) at (3137,1396) {行为控制};
\coordinate (lta1) at (3112,1428); \coordinate (lta2) at (3161,1367);
\draw[dashl, notec, -{Stealth[length=4pt]}] (lta1) .. controls (3135,1415) and (3135,1385) .. (lta2);
\draw[tline] (ltB.east) -- (2927,1587);
\draw[tline] (2927,1464.5) -- (2927,1710);
\DIA[minimum width=101pt,minimum height=54pt,aspect=1.9]{lt4}{2983}{1464.5}{网站信息设置}{2927}
\DIA{lt5}{2971}{1530}{新建栏目}{2927}
\DIA{lt6}{2971}{1595}{帖子管理}{2927}
\DIA{lt7}{2971}{1710}{用户管理}{2927}
\draw[tline] (lt4.east) -- (3046,1464.5);
\LEAF[20]{ltL4}{3046}{1451}{1477}{1451/广告管理,1477/基本信息管理}
\draw[tline] (lt5.east) -- (3022,1530);
\LEAF[19]{ltL5}{3022}{1518}{1543}{1518/新建分类,1543/新建话题}
\draw[tline] (lt6.east) -- (3022,1595);
\LEAF[19]{ltL6}{3022}{1581}{1607}{1581/帖子编辑}
\TXT{ltD1}{3041,1607}{帖子审核}
\TXT{ltD2}{3127,1607}{可拉黑}
\draw[tline] (3022,1607) -- ([xshift=12pt]ltD2.south east);
\draw[tline] (lt7.east) -- (3022,1710);
\LEAF[19]{ltL7}{3022}{1644}{1774}{1644/管理员,1670/元老,1696.5/贴主,1722.5/VIP用户,1749/普通用户,1774/游客}
\draw[brkl] (3100,1673) -- (3111,1673) -- (3111,1775) -- (3100,1775);
\NOTEE{ltn2}{3172,1724}{45}{17}{论坛相关用户}
\draw[tline] (3111,1723.5) -- (ltn2w);
\node[annot, text=ytext] (ltt2) at (3304,1687) {管理员可对其操作};
\coordinate (lta3) at (3083,1634); \coordinate (lta4) at (3220,1727);
\draw[dashl, magc, -{Stealth[length=5pt]}] (lta3) .. controls (3200,1645) and (3320,1670) .. (3329,1705) .. controls (3335,1725) and (3270,1728) .. (lta4);
\coordinate (lta5) at (3014,1595); \coordinate (lta6) at (2980,1206);
\draw[dashl, red, -{Stealth[length=5pt]}] (lta5) .. controls (3200,1580) and (3330,1520) .. (3320,1420) .. controls (3310,1290) and (3120,1220) .. (lta6);
\node[annot, anchor=west, text=bluc] (ltt3) at (3204,1418) {管理可以管理所有论坛的帖子，包括用户发布的};
\MK{lt.south}\MK{2918,1222}\MK{2918,1587}\MK{2987,1100}\MK{2987,1205}\MK{3072,1180}\MK{3072,1206}\MK{3092,1232}\MK{3016,1347}\MK{3040,1464.5}\MK{3016,1530}\MK{3016,1595}\MK{3100,1595}\MK{3016,1710}
\end{tikzpicture}
\end{document}
